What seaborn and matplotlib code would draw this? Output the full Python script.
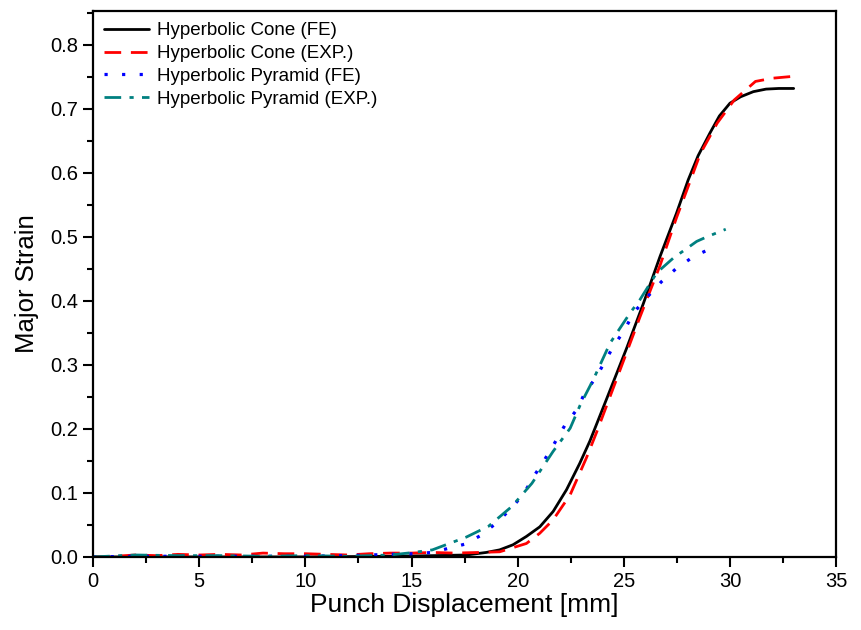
import matplotlib
matplotlib.use("Agg")
import matplotlib.pyplot as plt
from matplotlib.ticker import MultipleLocator, FormatStrFormatter
import seaborn as sns
import pandas as pd

# Data
cone_fe_x = [0, 5, 10, 14, 16, 17.58, 18.52, 19.15, 19.78, 20.41, 21.04, 21.67, 22.3,
             22.92, 23.4, 24.19, 25.13, 25.92, 26.7, 27.48, 28.03, 28.5, 29.05, 29.5,
             30.0, 30.5, 31.1, 31.7, 32.3, 33]
cone_fe_y = [0, 0, 0, 0.001, 0.002, 0.003, 0.007, 0.011, 0.019, 0.032, 0.047, 0.071,
             0.105, 0.146, 0.181, 0.247, 0.326, 0.396, 0.469, 0.537, 0.589, 0.627,
             0.662, 0.689, 0.709, 0.719, 0.727, 0.731, 0.732, 0.732]

cone_exp_x = [0, 1, 2, 3, 4, 5, 6, 7, 8, 9, 10, 11, 12, 13, 14, 15, 16, 17, 18.2,
              19.15, 20.41, 21.04, 21.67, 22.47, 23.24, 23.72, 24.82, 25.76, 26.7,
              27.48, 28.1, 28.6, 29.4, 30.2, 31.2, 32, 33]
cone_exp_y = [0, 0.001, 0.003, 0.002, 0.004, 0.003, 0.004, 0.003, 0.006, 0.005, 0.005,
              0.004, 0.003, 0.005, 0.006, 0.006, 0.007, 0.006, 0.007, 0.008, 0.021,
              0.037, 0.058, 0.097, 0.155, 0.195, 0.292, 0.375, 0.455, 0.53, 0.585, 0.63,
              0.678, 0.714, 0.743, 0.748, 0.751]

pyr_fe_x = [0, 2, 4, 6, 8, 10, 12, 14, 15.1, 15.98, 16.81, 17.52, 18.23, 19.0, 19.79,
            20.34, 20.8, 21.27, 21.74, 22.21, 22.78, 23.16, 23.72, 24.1, 24.51, 25.04,
            25.45, 26.07, 26.77, 27.48, 28.27, 29.1]
pyr_fe_y = [0, 0.001, 0.001, 0.001, 0.001, 0.001, 0.002, 0.004, 0.005, 0.007, 0.014,
            0.02, 0.033, 0.053, 0.079, 0.102, 0.128, 0.152, 0.178, 0.205, 0.23, 0.256,
            0.282, 0.305, 0.329, 0.355, 0.381, 0.405, 0.43, 0.451, 0.469, 0.482]

pyr_exp_x = [0, 2, 4, 6, 8, 10, 12, 14, 15.1, 15.98, 17.58, 18.63, 19.73, 20.67, 21.67,
             22.47, 22.94, 23.56, 24.35, 25.29, 25.76, 26.55, 27.33, 28.43, 28.9, 29.8]
pyr_exp_y = [0, 0.003, 0.002, 0.002, 0.001, 0.002, 0.001, 0.003, 0.007, 0.011, 0.031,
             0.048, 0.079, 0.115, 0.165, 0.201, 0.237, 0.277, 0.334, 0.381, 0.402,
             0.444, 0.467, 0.493, 0.5, 0.512]

labels = ["Hyperbolic Cone (FE)", "Hyperbolic Cone (EXP.)",
          "Hyperbolic Pyramid (FE)", "Hyperbolic Pyramid (EXP.)"]

sns.set_theme(style="ticks")
plt.rcParams['font.family'] = ['Liberation Sans', 'DejaVu Sans']
plt.rcParams['text.color'] = 'black'
plt.rcParams['axes.labelcolor'] = 'black'
plt.rcParams['xtick.color'] = 'black'
plt.rcParams['ytick.color'] = 'black'

fig = plt.figure(figsize=(8.62, 6.3), dpi=100)
ax = fig.add_axes([0.108, 0.116, 0.862, 0.8665])

series = [
    (cone_fe_x, cone_fe_y, labels[0], "black", None, 2.0),
    (cone_exp_x, cone_exp_y, labels[1], "#ff0000", (6, 3.5), 2.0),
    (pyr_fe_x, pyr_fe_y, labels[2], "#0000ff", (1, 4.5), 2.3),
    (pyr_exp_x, pyr_exp_y, labels[3], "#008080", (6, 3, 1.5, 3), 2.0),
]
for xs, ys, lab, col, dash, lw in series:
    df = pd.DataFrame({"x": xs, "y": ys})
    sns.lineplot(data=df, x="x", y="y", ax=ax, color=col, label=lab,
                 linewidth=lw, sort=False)
    l = ax.get_lines()[-1]
    if dash is not None:
        l.set_dashes(dash)

ax.set_xlim(0, 35)
ax.set_ylim(0, 0.853)
ax.xaxis.set_major_locator(MultipleLocator(5))
ax.xaxis.set_minor_locator(MultipleLocator(2.5))
ax.yaxis.set_major_locator(MultipleLocator(0.1))
ax.yaxis.set_minor_locator(MultipleLocator(0.05))
ax.yaxis.set_major_formatter(FormatStrFormatter('%.1f'))

for s in ax.spines.values():
    s.set_linewidth(1.6)
    s.set_color("black")
ax.tick_params(axis='both', which='major', direction='out', length=7, width=1.5,
               labelsize=14.5, colors='black', top=False, right=False)
ax.tick_params(axis='both', which='minor', direction='out', length=4, width=1.5,
               top=False, right=False)

ax.set_xlabel("Punch Displacement [mm]", fontsize=19, labelpad=2)
ax.set_ylabel("Major Strain", fontsize=18.5, labelpad=8)

leg = ax.legend(loc="upper left", frameon=False, fontsize=13.5, handlelength=2.4,
                borderaxespad=0.2, labelspacing=0.3, handletextpad=0.4)

fig.savefig("out.png", dpi=100)
